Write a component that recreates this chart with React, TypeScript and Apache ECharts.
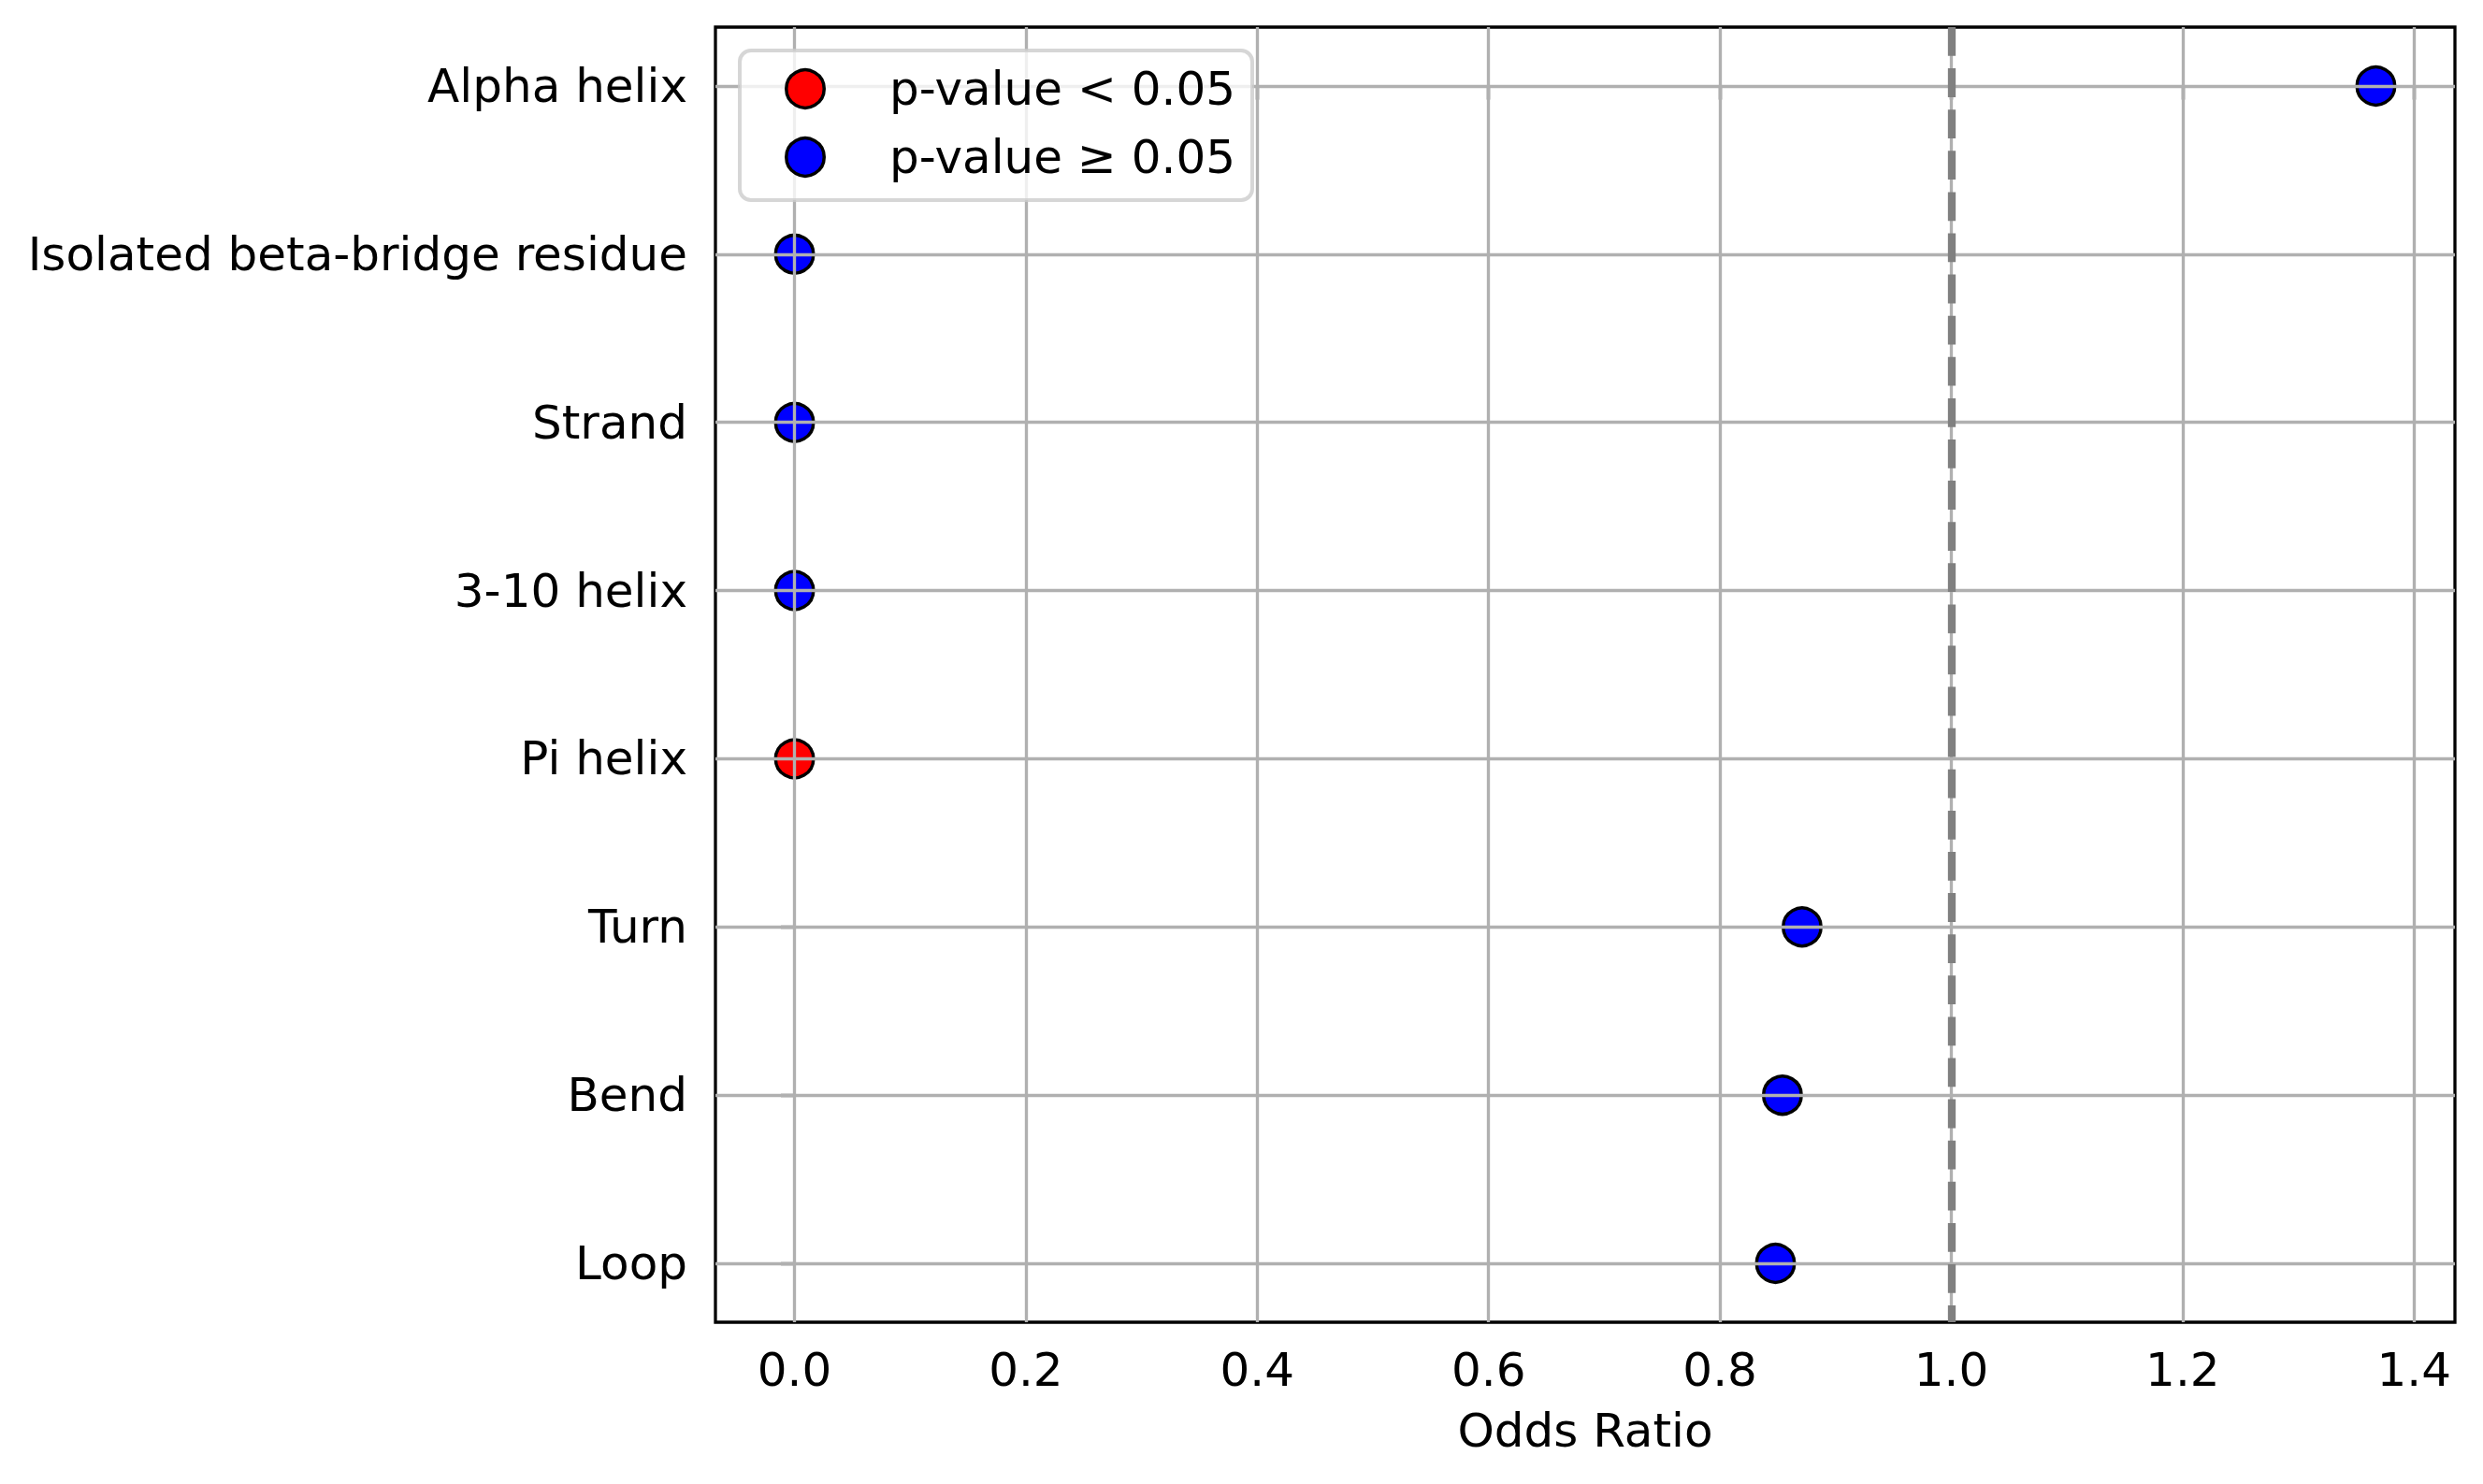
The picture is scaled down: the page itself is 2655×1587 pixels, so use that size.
import React, { useEffect, useRef } from "react";
import * as echarts from "echarts";

const categories = [
  "Alpha helix",
  "Isolated beta-bridge residue",
  "Strand",
  "3-10 helix",
  "Pi helix",
  "Turn",
  "Bend",
  "Loop",
];
const oddsRatios = [1.367, 0, 0, 0, 0, 0.871, 0.854, 0.848];
const significant = [false, false, false, false, true, false, false, false];
const xTicks = [0, 0.2, 0.4, 0.6, 0.8, 1.0, 1.2, 1.4];
const referenceValue = 1.0;
const seriesNames = ["p-value < 0.05", "p-value \u2265 0.05"];
const seriesColors = ["#ff0000", "#0000ff"];
const xAxisName = "Odds Ratio";

const FONT = "DejaVu Sans";

export default function App() {
  const ref = useRef<HTMLDivElement>(null);

  useEffect(() => {
    document.body.style.margin = "0";
    document.body.style.overflow = "hidden";
    if (!ref.current) return;
    const chart = echarts.init(ref.current, undefined, { renderer: "svg" });

    const yTicks = categories.map((_, i) => i);
    const xMax = Math.max(...oddsRatios);
    const xMin = Math.min(0, ...oddsRatios);
    const xPad = (xMax - xMin) * 0.05;
    const yPad = (categories.length - 1) * 0.05;

    const sigData = oddsRatios
      .map((v, i) => (significant[i] ? [v, i] : null))
      .filter((d) => d !== null);
    const nonSigData = oddsRatios
      .map((v, i) => (!significant[i] ? [v, i] : null))
      .filter((d) => d !== null);

    const markerStyle = (color: string) => ({
      color,
      borderColor: "#000000",
      borderWidth: 3.5,
      opacity: 1,
    });

    const gridLineStyle = { color: "#b0b0b0", width: 3.33, type: "solid" };

    // legend drawn as graphic elements (matplotlib-like layout)
    const legendLeft = 791;
    const legendTop = 54;
    const rowY = (i: number) => 95 + i * 73;
    const legendGraphics: any[] = [
      {
        type: "rect",
        shape: { x: legendLeft, y: legendTop, width: 548, height: 160, r: 12 },
        style: {
          fill: "rgba(255,255,255,0.8)",
          stroke: "rgba(204,204,204,0.8)",
          lineWidth: 4,
        },
        z: 100,
        silent: true,
      },
    ];
    seriesNames.forEach((name, i) => {
      legendGraphics.push({
        type: "circle",
        shape: { cx: 861, cy: rowY(i), r: 20.25 },
        style: { fill: seriesColors[i], stroke: "#000000", lineWidth: 3.5 },
        z: 101,
        silent: true,
      });
      legendGraphics.push({
        type: "text",
        x: 951,
        y: rowY(i),
        style: {
          text: name,
          fill: "#000000",
          fontSize: 50,
          fontFamily: FONT,
          verticalAlign: "middle",
          align: "left",
        },
        z: 101,
        silent: true,
      });
    });

    const option: any = {
      animation: false,
      backgroundColor: "#ffffff",
      textStyle: { fontFamily: FONT },
      grid: {
        left: 765,
        top: 29,
        width: 1860,
        height: 1385,
        show: true,
        borderColor: "#000000",
        borderWidth: 3.3,
        backgroundColor: "transparent",
        containLabel: false,
      },
      graphic: legendGraphics,
      xAxis: {
        type: "value",
        min: xMin - xPad,
        max: xMax + xPad,
        name: xAxisName,
        nameLocation: "middle",
        nameGap: 91,
        nameTextStyle: { fontSize: 50, fontFamily: FONT, color: "#000000" },
        axisLine: { show: false },
        axisTick: {
          show: true,
          customValues: xTicks,
          length: 14.6,
          lineStyle: { color: "#000000", width: 3.3 },
        },
        axisLabel: {
          show: true,
          customValues: xTicks,
          formatter: (v: number) => v.toFixed(1),
          fontSize: 50,
          fontFamily: FONT,
          color: "#000000",
          margin: 26,
        },
        splitLine: { show: false },
      },
      yAxis: {
        type: "value",
        inverse: true,
        min: -yPad,
        max: categories.length - 1 + yPad,
        axisLine: { show: false },
        axisTick: {
          show: true,
          customValues: yTicks,
          length: 14.6,
          lineStyle: { color: "#000000", width: 3.3 },
        },
        axisLabel: {
          show: true,
          customValues: yTicks,
          formatter: (v: number) => categories[Math.round(v)] ?? "",
          fontSize: 50,
          fontFamily: FONT,
          color: "#000000",
          margin: 30,
        },
        splitLine: { show: false },
      },
      series: [
        {
          name: seriesNames[0],
          type: "scatter",
          symbol: "circle",
          symbolSize: 40.5,
          data: sigData,
          itemStyle: markerStyle(seriesColors[0]),
          z: 2,
        },
        {
          name: seriesNames[1],
          type: "scatter",
          symbol: "circle",
          symbolSize: 40.5,
          data: nonSigData,
          itemStyle: markerStyle(seriesColors[1]),
          z: 2,
          markLine: {
            silent: true,
            symbol: ["none", "none"],
            label: { show: false },
            lineStyle: gridLineStyle,
            data: [
              ...xTicks.map((v) => ({ xAxis: v, lineStyle: gridLineStyle })),
              ...yTicks.map((v) => ({ yAxis: v, lineStyle: gridLineStyle })),
              {
                xAxis: referenceValue,
                lineStyle: { color: "#808080", width: 8.3, type: [30.8, 13.3] },
              },
            ],
          },
        },
      ],
    };

    chart.setOption(option);
    return () => {
      chart.dispose();
    };
  }, []);

  return <div ref={ref} style={{ width: 2655, height: 1587 }} />;
}
